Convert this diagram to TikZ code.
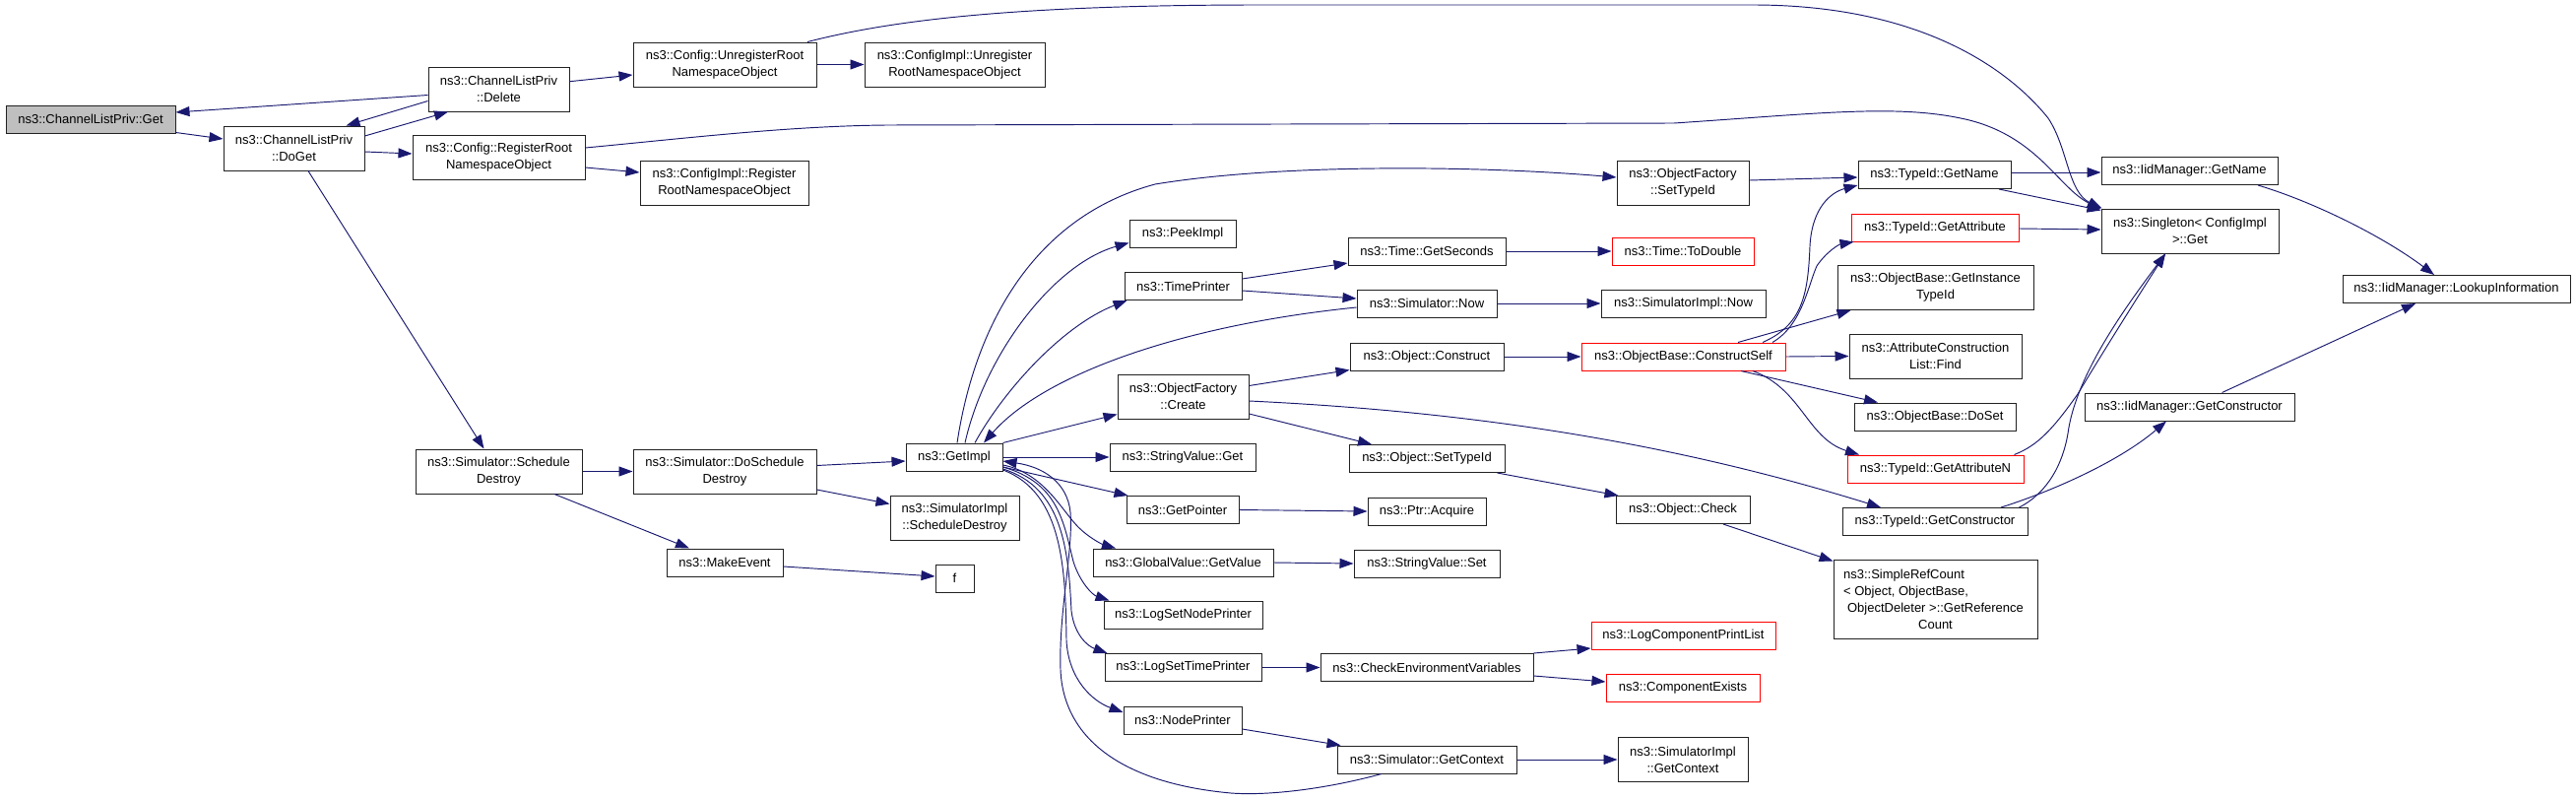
\documentclass[tikz,border=0pt]{standalone}
\usepackage{fontspec}
\setmainfont{Liberation Sans}
\usetikzlibrary{arrows.meta}
\definecolor{edgeblue}{HTML}{191970}
\definecolor{rootgray}{HTML}{BFBFBF}
\definecolor{linkred}{HTML}{FF0000}
\definecolor{boxline}{HTML}{222222}
\begin{document}
\begin{tikzpicture}[x=1pt,y=-1pt,
 nb/.style={draw=boxline, line width=1pt, fill=white, rectangle, inner sep=0pt, align=center, font=\fontsize{13}{17}\selectfont},
 h1/.style={nb, minimum height=28pt},
 h2/.style={nb, minimum height=45pt},
 rootnode/.style={fill=rootgray},
 rednode/.style={draw=linkred},
 edge/.style={draw=edgeblue, line width=0.95pt, -{Triangle[length=14pt,width=10pt]}}]
\useasboundingbox (0,0) rectangle (2616,811);

\node[h1,rootnode,minimum width=172pt] (get) at (92,121) {ns3::ChannelListPriv::Get};
\node[h2,minimum width=143pt] (doget) at (298.5,150.5) {ns3::ChannelListPriv\\::DoGet};
\node[h2,minimum width=143pt] (del) at (506.5,90.5) {ns3::ChannelListPriv\\::Delete};
\node[h2,minimum width=186pt] (cfgunreg) at (736,65.5) {ns3::Config::UnregisterRoot\\NamespaceObject};
\node[h2,minimum width=175pt] (cfgreg) at (506.5,160) {ns3::Config::RegisterRoot\\NamespaceObject};
\node[h2,minimum width=183pt] (ciunreg) at (969.5,65.5) {ns3::ConfigImpl::Unregister\\RootNamespaceObject};
\node[h2,minimum width=171pt] (cireg) at (735.5,185.5) {ns3::ConfigImpl::Register\\RootNamespaceObject};
\node[h2,minimum width=169pt] (schdes) at (506.5,478.5) {ns3::Simulator::Schedule\\Destroy};
\node[h2,minimum width=186pt] (doschdes) at (736,478.5) {ns3::Simulator::DoSchedule\\Destroy};
\node[h1,minimum width=118pt] (mkev) at (736,571) {ns3::MakeEvent};
\node[h1,minimum width=98pt] (getimpl) at (969,464) {ns3::GetImpl};
\node[h2,minimum width=131pt] (siminschdes) at (969.5,525.5) {ns3::SimulatorImpl\\::ScheduleDestroy};
\node[h1,minimum width=39pt] (f) at (969.5,587) {f};
\node[h1,minimum width=108pt] (peek) at (1201,237.5) {ns3::PeekImpl};
\node[h1,minimum width=119pt] (timepr) at (1201.5,290.5) {ns3::TimePrinter};
\node[h2,minimum width=133pt] (ofcreate) at (1201.5,402.5) {ns3::ObjectFactory\\::Create};
\node[h1,minimum width=148pt] (svget) at (1201,464) {ns3::StringValue::Get};
\node[h1,minimum width=114pt] (getptr) at (1201,517.5) {ns3::GetPointer};
\node[h1,minimum width=183pt] (gvget) at (1201.5,571) {ns3::GlobalValue::GetValue};
\node[h1,minimum width=161pt] (lsnp) at (1201.5,624) {ns3::LogSetNodePrinter};
\node[h1,minimum width=159pt] (lstp) at (1201.5,677.5) {ns3::LogSetTimePrinter};
\node[h1,minimum width=120pt] (nodepr) at (1201,731) {ns3::NodePrinter};
\node[h2,minimum width=134pt] (ofsettid) at (1709,185.5) {ns3::ObjectFactory\\::SetTypeId};
\node[h1,minimum width=160pt] (getsec) at (1449,255) {ns3::Time::GetSeconds};
\node[h1,minimum width=142pt] (simnow) at (1449,308) {ns3::Simulator::Now};
\node[h1,minimum width=156pt] (objcons) at (1449,362) {ns3::Object::Construct};
\node[h1,minimum width=158pt] (objsettid) at (1449,465.5) {ns3::Object::SetTypeId};
\node[h1,minimum width=120pt] (acquire) at (1449,519) {ns3::Ptr::Acquire};
\node[h1,minimum width=148pt] (svset) at (1449,572) {ns3::StringValue::Set};
\node[h1,minimum width=216pt] (checkenv) at (1449,677.5) {ns3::CheckEnvironmentVariables};
\node[h1,minimum width=182pt] (simgetctx) at (1449,771) {ns3::Simulator::GetContext};
\node[h1,rednode,minimum width=144pt] (todouble) at (1709,255) {ns3::Time::ToDouble};
\node[h1,minimum width=167pt] (siminow) at (1709.5,308) {ns3::SimulatorImpl::Now};
\node[h1,rednode,minimum width=207pt] (consself) at (1709.5,362) {ns3::ObjectBase::ConstructSelf};
\node[h1,minimum width=136pt] (objcheck) at (1709,517.5) {ns3::Object::Check};
\node[h1,rednode,minimum width=187pt] (lcpl) at (1709.5,645) {ns3::LogComponentPrintList};
\node[h1,rednode,minimum width=156pt] (compex) at (1709,698.5) {ns3::ComponentExists};
\node[h2,minimum width=132pt] (siminctx) at (1709,771) {ns3::SimulatorImpl\\::GetContext};
\node[h1,minimum width=155pt] (tigetname) at (1964.5,177.5) {ns3::TypeId::GetName};
\node[h1,rednode,minimum width=170pt] (tigetattr) at (1965,231) {ns3::TypeId::GetAttribute};
\node[h2,minimum width=199pt] (getinst) at (1965.5,292) {ns3::ObjectBase::GetInstance\\TypeId};
\node[h2,minimum width=175pt] (acfind) at (1965.5,361.5) {ns3::AttributeConstruction\\List::Find};
\node[h1,minimum width=164pt] (doset) at (1965,423) {ns3::ObjectBase::DoSet};
\node[h1,rednode,minimum width=179pt] (getattrn) at (1965.5,476) {ns3::TypeId::GetAttributeN};
\node[h1,minimum width=188pt] (tigetcons) at (1965,529.5) {ns3::TypeId::GetConstructor};
\node[nb,minimum width=207pt,minimum height=80pt] (srefc) at (1965.5,608) {\makebox[0pt][l]{\hspace*{-4pt}ns3::SimpleRefCount}\phantom{ObjectDeleter >::GetReference}\\\makebox[0pt][l]{\hspace*{-4pt}< Object, ObjectBase,}\phantom{ObjectDeleter >::GetReference}\\ObjectDeleter >::GetReference\\Count};
\node[h1,minimum width=179pt] (iidgetname) at (2223.5,173.5) {ns3::IidManager::GetName};
\node[h2,minimum width=180pt] (singleton) at (2224,234.5) {ns3::Singleton< ConfigImpl\\>::Get};
\node[h1,minimum width=231pt] (lookup) at (2494.5,293.5) {ns3::IidManager::LookupInformation};
\node[h1,minimum width=213pt] (iidgetcons) at (2223.5,413) {ns3::IidManager::GetConstructor};

\draw[edge] ([yshift=1pt]get.south east) -- ([yshift=9.5pt]doget.west);
\draw[edge] ([yshift=-6pt]del.west) -- ([yshift=7pt]get.east);
\draw[edge] ([yshift=-12pt]del.west) -- ([xshift=53pt]doget.north);
\draw[edge] ([yshift=12.5pt]doget.east) -- ([xshift=-51.5pt]del.south);
\draw[edge] ([yshift=-3.5pt]doget.east) -- ([yshift=4pt]cfgreg.west);
\draw[edge] ([xshift=14.5pt]doget.south) -- ([xshift=-15pt]schdes.north);
\draw[edge] ([yshift=7.8pt]del.east) -- ([yshift=-10.5pt]cfgunreg.west);
\draw[edge] (cfgunreg.east) -- (ciunreg.west);
\draw[edge] ([xshift=84pt]cfgunreg.north) .. controls (900,22) and (1020,5) .. (1280,5) -- (1780,5) .. controls (1950,5) and (2040,70) .. (2080,120) .. controls (2100,150) and (2100,195) .. ([xshift=1pt]singleton.north west);
\draw[edge] ([yshift=10pt]cfgreg.east) .. controls (700,140) and (800,128) .. (900,127) -- (1700,125) .. controls (1850,115) and (1930,105) .. (2000,122) .. controls (2070,140) and (2090,190) .. ([yshift=-1pt]singleton.north west);
\draw[edge] ([yshift=-10pt]cfgreg.east) -- ([yshift=10.5pt]cireg.west);
\draw[edge] (schdes.east) -- (doschdes.west);
\draw[edge] ([xshift=56.5pt]schdes.south) -- ([xshift=-36pt]mkev.north);
\draw[edge] ([yshift=6pt]doschdes.east) -- ([yshift=-4pt]getimpl.west);
\draw[edge] ([yshift=-18.5pt]doschdes.east) -- ([yshift=14pt]siminschdes.west);
\draw[edge] ([yshift=-4pt]mkev.east) -- ([yshift=2pt]f.west);
\draw[edge] ([xshift=3pt]getimpl.north) .. controls (990,330) and (1050,220) .. (1173,187) .. controls (1300,166) and (1500,168) .. ([yshift=5.5pt]ofsettid.west);
\draw[edge] ([xshift=11pt]getimpl.north) .. controls (1000,360) and (1070,268) .. ([yshift=-9pt]peek.west);
\draw[edge] ([xshift=21pt]getimpl.north) .. controls (1020,395) and (1080,330) .. ([xshift=3pt]timepr.south west);
\draw[edge] ([yshift=-4pt]simnow.west) .. controls (1200,330) and (1060,380) .. ([xshift=30pt]getimpl.north);
\draw[edge] ([yshift=7.5pt]timepr.east) -- ([yshift=-12pt]getsec.west);
\draw[edge] ([yshift=-4.5pt]timepr.east) -- ([yshift=5pt]simnow.west);
\draw[edge] (getsec.east) -- (todouble.west);
\draw[edge] (simnow.east) -- (siminow.west);
\draw[edge] (getimpl.north east) -- ([yshift=-18pt]ofcreate.west);
\draw[edge] ([yshift=11pt]ofcreate.east) -- ([yshift=1pt]objcons.south west);
\draw[edge] ([yshift=-17.5pt]ofcreate.east) -- ([xshift=-56pt]objsettid.north);
\draw[edge] ([yshift=-4.5pt]ofcreate.east) .. controls (1500,418) and (1700,450) .. ([xshift=-55pt]tigetcons.north);
\draw[edge] (objcons.east) -- (consself.west);
\draw[edge] ([xshift=80.5pt]consself.north) .. controls (1830,330) and (1836,300) .. (1838,250) .. controls (1840,210) and (1860,195) .. ([yshift=-10.5pt]tigetname.west);
\draw[edge] ([xshift=90.5pt]consself.north) .. controls (1830,330) and (1836,290) .. (1845,270) .. controls (1855,255) and (1868,248) .. ([xshift=3pt]tigetattr.south west);
\draw[edge] ([xshift=55.5pt]consself.north) -- ([xshift=14pt]getinst.south west);
\draw[edge] (consself.east) -- (acfind.west);
\draw[edge] ([xshift=58.5pt]consself.south) -- ([xshift=-58pt]doset.north);
\draw[edge] ([xshift=70.5pt]consself.south) .. controls (1830,395) and (1835,445) .. ([xshift=-77.5pt]getattrn.north);
\draw[edge] ([yshift=2.5pt]ofsettid.east) -- ([yshift=-2.5pt]tigetname.west);
\draw[edge] ([yshift=2.5pt]tigetname.east) -- ([yshift=-1.5pt]iidgetname.west);
\draw[edge] ([xshift=65.5pt]tigetname.south) -- ([yshift=-2pt]singleton.north west);
\draw[edge] ([yshift=-1pt]tigetattr.east) -- ([yshift=1.5pt]singleton.west);
\draw[edge] ([xshift=-10pt]getattrn.north east) .. controls (2070,452) and (2085,435) .. (2110,400) .. controls (2140,350) and (2175,295) .. ([xshift=-25pt]singleton.south);
\draw[edge] ([xshift=-9pt]tigetcons.north east) .. controls (2080,500) and (2095,470) .. (2100,440) .. controls (2108,380) and (2160,310) .. ([xshift=-25pt]singleton.south);
\draw[edge] ([xshift=67pt]tigetcons.north) .. controls (2080,500) and (2150,470) .. ([xshift=-23.5pt]iidgetcons.south);
\draw[edge] ([xshift=69.5pt]iidgetname.south) .. controls (2350,205) and (2420,240) .. ([xshift=-22.5pt]lookup.north);
\draw[edge] ([xshift=33pt]iidgetcons.north) -- ([xshift=-41.5pt]lookup.south);
\draw[edge] ([xshift=-8pt]objsettid.south east) -- ([xshift=3pt]objcheck.north west);
\draw[edge] ([xshift=41pt]objcheck.south) -- ([yshift=-2pt]srefc.north west);
\draw[edge] (getimpl.east) -- (svget.west);
\draw[edge] ([yshift=-10pt]getimpl.east) -- ([xshift=2pt]getptr.north west);
\draw[edge] ([yshift=-8pt]getimpl.east) .. controls (1060,480) and (1078,518) .. (1095,535) .. controls (1105,545) and (1118,552) .. ([xshift=-68.5pt]gvget.north);
\draw[edge] ([yshift=-10pt]getimpl.east) .. controls (1075,490) and (1080,530) .. (1090,570) .. controls (1097,592) and (1110,604) .. ([xshift=6pt]lsnp.north west);
\draw[edge] ([yshift=-12pt]getimpl.east) .. controls (1080,495) and (1085,560) .. (1088,620) .. controls (1091,645) and (1105,656) .. ([xshift=3pt]lstp.north west);
\draw[edge] ([yshift=-13pt]getimpl.east) .. controls (1080,500) and (1082,580) .. (1083,650) .. controls (1085,690) and (1110,712) .. ([yshift=8pt]nodepr.west);
\draw[edge] ([xshift=-46pt]simgetctx.south) .. controls (1350,800) and (1290,808) .. (1250,805) .. controls (1140,795) and (1080,750) .. (1077,680) .. controls (1075,620) and (1090,560) .. (1087,520) .. controls (1084,490) and (1060,474) .. ([yshift=-4pt]getimpl.east);
\draw[edge] (gvget.east) -- (svset.west);
\draw[edge] (getptr.east) -- (acquire.west);
\draw[edge] (lstp.east) -- (checkenv.west);
\draw[edge] (checkenv.north east) -- ([yshift=-13pt]lcpl.west);
\draw[edge] ([yshift=-8.5pt]checkenv.east) -- ([yshift=6.5pt]compex.west);
\draw[edge] ([yshift=-9pt]nodepr.east) -- ([xshift=4pt]simgetctx.north west);
\draw[edge] (simgetctx.east) -- (siminctx.west);
\end{tikzpicture}
\end{document}
